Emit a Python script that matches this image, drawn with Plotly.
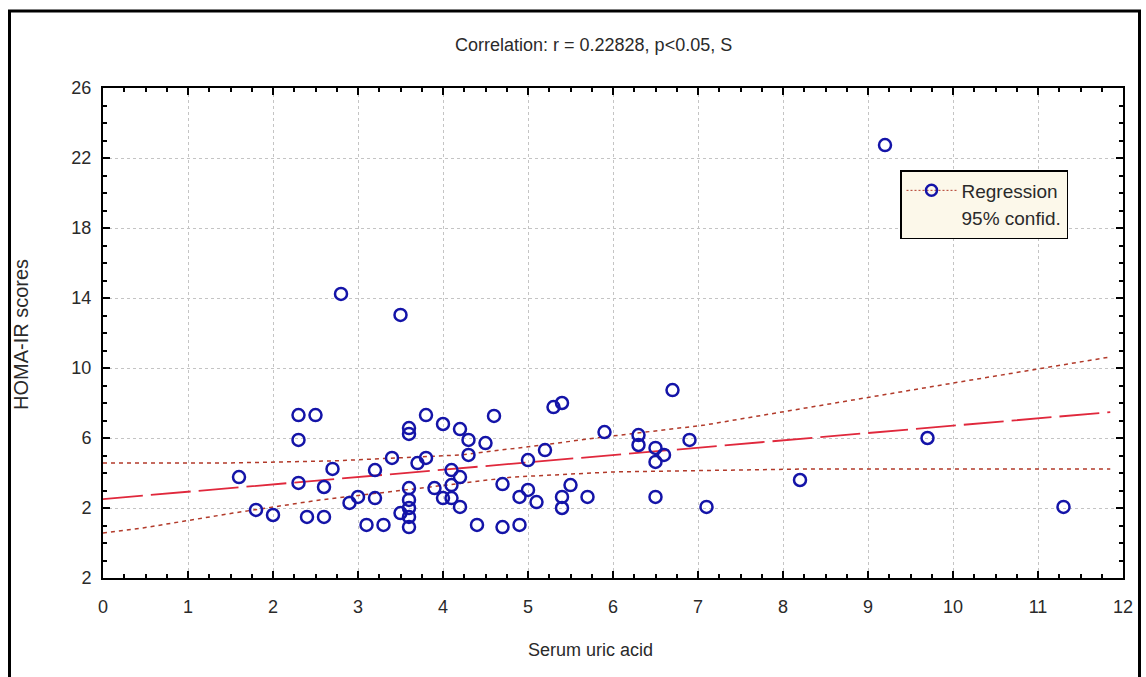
import plotly.graph_objects as go

# ---- data ----
uric_acid = [1.6, 1.8, 2.0, 2.3, 2.5, 2.3, 2.3, 2.4, 2.6, 2.6, 2.7, 2.8, 2.9, 3.0,
             3.1, 3.2, 3.2, 3.3, 3.4, 3.5, 3.5, 3.6, 3.6, 3.6, 3.6, 3.6, 3.6, 3.6,
             3.7, 3.8, 3.8, 3.9, 4.0, 4.0, 4.1, 4.1, 4.1, 4.2, 4.2, 4.2, 4.3, 4.3,
             4.4, 4.5, 4.6, 4.7, 4.7, 4.9, 4.9, 5.0, 5.0, 5.1, 5.2, 5.3, 5.4, 5.4,
             5.4, 5.5, 5.7, 5.9, 6.3, 6.3, 6.5, 6.5, 6.5, 6.6, 6.7, 6.9, 7.1, 8.2,
             9.2, 9.7, 11.3]
homa_ir = [3.77, 1.89, 1.60, 7.31, 7.31, 5.89, 3.43, 1.49, 3.20, 1.49, 4.23, 14.23, 2.29, 2.63,
           1.03, 4.17, 2.57, 1.03, 4.86, 1.71, 13.03, 6.57, 6.23, 3.14, 2.46, 2.00, 1.49, 0.91,
           4.57, 7.31, 4.86, 3.14, 6.80, 2.57, 4.17, 3.31, 2.57, 6.51, 2.06, 3.77, 5.89, 5.03,
           1.03, 5.71, 7.26, 3.37, 0.91, 2.63, 1.03, 3.03, 4.74, 2.34, 5.31, 7.77, 8.00, 2.63,
           2.00, 3.31, 2.63, 6.34, 6.17, 5.60, 2.63, 5.43, 4.63, 5.03, 8.74, 5.89, 2.06, 3.60,
           22.74, 6.00, 2.06]

reg_x = [0.0, 11.85]
reg_y = [2.51, 7.48]

ci_upper_x = [0.0, 1.45, 2.7, 4.2, 5.0, 5.9, 7.08, 8.67, 10.0, 11.85]
ci_upper_y = [4.57, 4.57, 4.69, 5.03, 5.5, 6.06, 6.74, 8.06, 9.14, 10.63]
ci_lower_x = [0.0, 0.47, 1.53, 2.55, 3.85, 4.82, 6.0, 6.7, 8.26, 11.85]
ci_lower_y = [0.57, 0.86, 1.71, 2.46, 3.2, 3.77, 4.06, 4.11, 4.23, 4.23]

x_ticks = list(range(0, 13))
y_ticks = [-2, 2, 6, 10, 14, 18, 22, 26]
y_ticktext = ["2", "2", "6", "10", "14", "18", "22", "26"]

title_text = "Correlation: r = 0.22828, p<0.05, S"
x_title = "Serum uric acid"
y_title = "HOMA-IR scores"

FONT = "Liberation Sans Narrow, Arial Narrow, Liberation Sans, Arial, sans-serif"
TXT = "#2a2a2a"
PT_COLOR = "#1414a8"
REG_COLOR = "#e0283c"
CI_COLOR = "#b23a2a"

fig = go.Figure()

fig.add_trace(go.Scatter(x=ci_upper_x, y=ci_upper_y, mode="lines",
                         line=dict(color=CI_COLOR, width=1.5, dash="4px,4px"),
                         showlegend=False, hoverinfo="skip"))
fig.add_trace(go.Scatter(x=ci_lower_x, y=ci_lower_y, mode="lines",
                         line=dict(color=CI_COLOR, width=1.5, dash="4px,4px"),
                         showlegend=False, hoverinfo="skip"))
fig.add_trace(go.Scatter(x=reg_x, y=reg_y, mode="lines",
                         line=dict(color=REG_COLOR, width=1.8, dash="40px,8px"),
                         showlegend=False, hoverinfo="skip"))
fig.add_trace(go.Scatter(x=uric_acid, y=homa_ir, mode="markers",
                         marker=dict(symbol="circle-open", size=12,
                                     line=dict(color=PT_COLOR, width=2.5), color=PT_COLOR),
                         showlegend=False))

# legend entries
fig.add_trace(go.Scatter(x=[None], y=[None], mode="lines+markers", name="Regression",
                         marker=dict(symbol="circle-open", size=11,
                                     line=dict(color=PT_COLOR, width=2.5), color=PT_COLOR),
                         line=dict(color=CI_COLOR, width=1, dash="2px,2px")))
fig.add_trace(go.Scatter(x=[None], y=[None], mode="lines", name="95% confid.",
                         line=dict(color="rgba(0,0,0,0)", width=1)))

L, R, T, B = 103, 23, 88, 99
W, H = 1146, 677
pw, ph = W - L - R, H - T - B

def px_x(p):
    return (p - L) / pw

def px_y(p):
    return (H - B - p) / ph

axis_common = dict(
    showline=True, linecolor="black", linewidth=2, mirror="ticks",
    ticks="inside", ticklen=7, tickwidth=1.5, tickcolor="black",
    showgrid=True, gridcolor="#c4c4c4", griddash="dot", gridwidth=1,
    zeroline=False,
    tickfont=dict(family=FONT, size=18, color=TXT),
)

fig.update_xaxes(range=[0, 12], tickvals=x_ticks, ticklabelstandoff=11,
                 minor=dict(dtick=0.25, ticks="inside", ticklen=4, tickcolor="black", showgrid=False),
                 **axis_common)
fig.update_yaxes(range=[-2, 26], tickvals=y_ticks, ticktext=y_ticktext, ticklabelstandoff=6,
                 minor=dict(dtick=1, ticks="inside", ticklen=4, tickcolor="black", showgrid=False),
                 **axis_common)

fig.update_layout(
    width=W, height=H,
    margin=dict(l=L, r=R, t=T, b=B),
    plot_bgcolor="white", paper_bgcolor="white",
    showlegend=True,
    legend=dict(x=px_x(900), y=px_y(170), xanchor="left", yanchor="top",
                bgcolor="#fcf8ea", bordercolor="black", borderwidth=1.5,
                font=dict(family=FONT, size=19, color=TXT),
                tracegroupgap=0, itemwidth=50),
    font=dict(family=FONT),
)

fig.add_annotation(text=title_text, x=px_x(593), y=px_y(45), xref="paper", yref="paper",
                   xanchor="center", yanchor="middle",
                   showarrow=False, font=dict(family=FONT, size=18, color=TXT))
fig.add_annotation(text=x_title, x=px_x(590), y=px_y(650), xref="paper", yref="paper",
                   xanchor="center", yanchor="middle",
                   showarrow=False, font=dict(family=FONT, size=18, color=TXT))
fig.add_annotation(text=y_title, x=px_x(21), y=px_y(335), xref="paper", yref="paper",
                   xanchor="center", yanchor="middle",
                   showarrow=False, textangle=-90, font=dict(family=FONT, size=20, color=TXT))

# outer frame
fig.add_shape(type="rect", xref="paper", yref="paper",
              x0=px_x(9.5), x1=px_x(1139.5), y0=px_y(690), y1=px_y(11),
              line=dict(color="black", width=3), fillcolor="rgba(0,0,0,0)", layer="above")

fig.write_html("out.html")
